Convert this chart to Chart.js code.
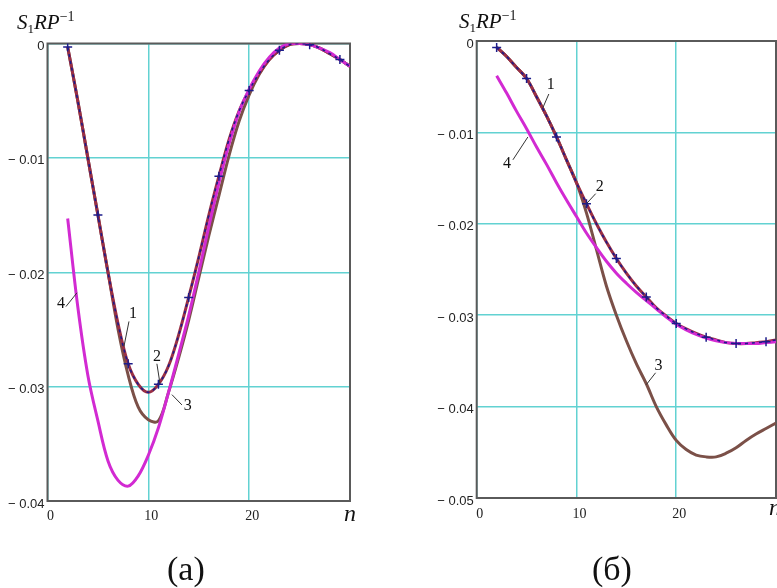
<!DOCTYPE html>
<html><head><meta charset="utf-8">
<script src="https://cdn.jsdelivr.net/npm/chart.js@4.4.0/dist/chart.umd.min.js"></script>
<style>
html,body{margin:0;padding:0;background:#fff;width:777px;height:588px;overflow:hidden;}
#wrap{position:relative;width:777px;height:588px;overflow:hidden;}
canvas{position:absolute;top:0;}
.t{position:absolute;font-family:"Liberation Serif","Times New Roman",serif;color:#111;white-space:nowrap;line-height:20px;}
.ytitle{font-size:21px;}
.ytitle i{font-style:italic;}
.ytitle .sb{font-size:13px;position:relative;top:4px;}
.ytitle .sp{font-size:14px;position:relative;top:-8px;}
.nlab{font-size:24px;font-style:italic;line-height:24px;}
.cap{font-size:34px;line-height:34px;}
</style>
</head><body><div id="wrap">
<canvas id="ca" width="400" height="588" style="left:0;width:400px;height:588px"></canvas>
<canvas id="cb" width="420" height="588" style="left:400px;width:420px;height:588px"></canvas>
<div class="t ytitle" style="left:17px;top:12px"><i>S</i><span class="sb">1</span><i>RP</i><span class="sp">−1</span></div>
<div class="t ytitle" style="left:459px;top:11px"><i>S</i><span class="sb">1</span><i>RP</i><span class="sp">−1</span></div>
<div class="t nlab" style="left:344px;top:501px">n</div>
<div class="t nlab" style="left:769px;top:495px">n</div>
<div class="t cap" style="left:167px;top:552px">(a)</div>
<div class="t cap" style="left:592px;top:552px">(б)</div>
</div>
<script>
// ---- data ----
const nValues = [2,3,4,5,6,7,8,9,10,11,12,13,14,15,16,17,18,19,20,21,22,23,24,25,26,27,28,29,30];
const xTicks = [0,10,20,30];
const yTicksA = [0,-0.01,-0.02,-0.03,-0.04];
const yTicksB = [0,-0.01,-0.02,-0.03,-0.04,-0.05];

// panel (a)
const a1 = [-0.0003,-0.0050,-0.0100,-0.0150,-0.0200,-0.0245,-0.0280,-0.0298,-0.0305,-0.0298,-0.0282,-0.0255,-0.0222,-0.0187,-0.0150,-0.0116,-0.0084,-0.0059,-0.0041,-0.0026,-0.0014,-0.0006,-0.0001,0.0000,-0.0001,-0.0004,-0.0009,-0.0014,-0.0020];
const a2 = [-0.0003,-0.0050,-0.0100,-0.0150,-0.0200,-0.0245,-0.0280,-0.0298,-0.0305,-0.0298,-0.0282,-0.0255,-0.0222,-0.0187,-0.0150,-0.0116,-0.0084,-0.0059,-0.0041,-0.0026,-0.0014,-0.0006,-0.0001,0.0000,-0.0001,-0.0004,-0.0009,-0.0014,-0.0020];
const a3 = [-0.0003,-0.0050,-0.0100,-0.0150,-0.0200,-0.0250,-0.0290,-0.0318,-0.0329,-0.0330,-0.0305,-0.0275,-0.0242,-0.0205,-0.0168,-0.0133,-0.0098,-0.0068,-0.0045,-0.0027,-0.0014,-0.0006,-0.0001,0.0000,-0.0001,-0.0004,-0.0009,-0.0014,-0.0020];
const a4 = [-0.0153,-0.0230,-0.0290,-0.0330,-0.0365,-0.0382,-0.0387,-0.0378,-0.0360,-0.0336,-0.0305,-0.0272,-0.0238,-0.0200,-0.0160,-0.0122,-0.0088,-0.0060,-0.0040,-0.0024,-0.0012,-0.0004,0.0000,0.0000,-0.0001,-0.0004,-0.0008,-0.0014,-0.0020];

// panel (b)
const b1 = [-0.0007,-0.0017,-0.0029,-0.0041,-0.0061,-0.0082,-0.0105,-0.0130,-0.0155,-0.0178,-0.0200,-0.0220,-0.0238,-0.0254,-0.0268,-0.0280,-0.0292,-0.0301,-0.0309,-0.0315,-0.0320,-0.0324,-0.0327,-0.0330,-0.0331,-0.0331,-0.0330,-0.0329,-0.0327];
const b2 = [-0.0007,-0.0017,-0.0029,-0.0041,-0.0061,-0.0082,-0.0105,-0.0130,-0.0155,-0.0178,-0.0200,-0.0220,-0.0238,-0.0254,-0.0268,-0.0280,-0.0292,-0.0301,-0.0309,-0.0315,-0.0320,-0.0324,-0.0327,-0.0330,-0.0331,-0.0331,-0.0330,-0.0329,-0.0327];
const b3 = [-0.0007,-0.0017,-0.0029,-0.0041,-0.0061,-0.0082,-0.0105,-0.0130,-0.0155,-0.0188,-0.0228,-0.0268,-0.0300,-0.0328,-0.0353,-0.0375,-0.0400,-0.0420,-0.0437,-0.0447,-0.0453,-0.0455,-0.0455,-0.0451,-0.0445,-0.0437,-0.0430,-0.0424,-0.0418];
const b4 = [-0.0038,-0.0057,-0.0077,-0.0096,-0.0116,-0.0135,-0.0155,-0.0174,-0.0192,-0.0210,-0.0226,-0.0241,-0.0254,-0.0265,-0.0275,-0.0284,-0.0293,-0.0302,-0.0310,-0.0316,-0.0321,-0.0325,-0.0328,-0.0330,-0.0331,-0.0331,-0.0331,-0.0330,-0.0329];

// curve label annotations (data coordinates)
const labelsA = [
  {text:'1', n:8.47, v:-0.0236, n1:8.08, v1:-0.0243, n2:7.58, v2:-0.0265},
  {text:'2', n:10.85, v:-0.0274, n1:10.85, v1:-0.0280, n2:11.15, v2:-0.0297},
  {text:'3', n:13.9, v:-0.0317, n1:12.34, v1:-0.0307, n2:13.33, v2:-0.0316},
  {text:'4', n:1.34, v:-0.0228, n1:1.83, v1:-0.0230, n2:2.92, v2:-0.0218}
];
const labelsB = [
  {text:'1', n:7.43, v:-0.0048, n1:7.23, v1:-0.0058, n2:6.63, v2:-0.0073},
  {text:'2', n:12.33, v:-0.0159, n1:11.93, v1:-0.0167, n2:11.0, v2:-0.0178},
  {text:'3', n:18.23, v:-0.0355, n1:17.93, v1:-0.0363, n2:17.0, v2:-0.0376},
  {text:'4', n:3.03, v:-0.0134, n1:3.63, v1:-0.0130, n2:5.13, v2:-0.0105}
];

// ---- helpers ----
const pts = arr => nValues.map((n,i)=>({x:n, y:arr[i]}));
const C1 = '#9a2f45', C3 = '#7b5048', C4 = '#d22ad2', C2 = '#1c1c8a';

const framePlugin = {
  id:'frame',
  beforeDatasetsDraw(chart){
    const {ctx, chartArea:a} = chart;
    ctx.save(); ctx.strokeStyle='#5a5a5a'; ctx.lineWidth=2;
    ctx.strokeRect(a.left, a.top, a.right-a.left, a.bottom-a.top);
    ctx.restore();
  }
};
const labelPlugin = {
  id:'curveLabels',
  afterDatasetsDraw(chart, args, opts){
    const {ctx} = chart, xs = chart.scales.x, ys = chart.scales.y;
    ctx.save();
    ctx.strokeStyle='#333'; ctx.lineWidth=1;
    ctx.fillStyle='#111'; ctx.font='16px "Liberation Serif", serif';
    ctx.textAlign='center'; ctx.textBaseline='middle';
    (opts.items||[]).forEach(it=>{
      ctx.beginPath();
      ctx.moveTo(xs.getPixelForValue(it.n1), ys.getPixelForValue(it.v1));
      ctx.lineTo(xs.getPixelForValue(it.n2), ys.getPixelForValue(it.v2));
      ctx.stroke();
      ctx.fillText(it.text, xs.getPixelForValue(it.n), ys.getPixelForValue(it.v));
    });
    ctx.restore();
  }
};

function fmtY(v){
  if (Math.abs(v) < 1e-9) return '0';
  return '\u2212 ' + Math.abs(v).toFixed(2);
}

function makeChart(id, s1, s2, s3, s4, yTicks, labels, cfg){
  return new Chart(document.getElementById(id), {
    type:'line',
    data:{datasets:[
      {data:pts(s2), order:0, borderColor:C2, borderWidth:1.6, borderDash:[3,4], fill:false, tension:0.35,
        pointStyle:'cross', pointRadius:ctx=>(ctx.dataIndex%3===0?4.5:0), pointBorderColor:C2, pointBorderWidth:1.5, pointHoverRadius:0},
      {data:pts(s4), order:1, borderColor:C4, borderWidth:3, pointRadius:0, fill:false, tension:0.35},
      {data:pts(s1), order:2, borderColor:C1, borderWidth:3, pointRadius:0, fill:false, tension:0.35},
      {data:pts(s3), order:3, borderColor:C3, borderWidth:3, pointRadius:0, fill:false, tension:0.35}
    ]},
    options:{
      responsive:false, animation:false, devicePixelRatio:1,
      layout:{padding:{left:0, top:cfg.top, right:cfg.right, bottom:0}},
      plugins:{legend:{display:false}, tooltip:{enabled:false}, curveLabels:{items:labels}},
      scales:{
        x:{type:'linear', min:0, max:30,
          afterBuildTicks:s=>{s.ticks = xTicks.map(v=>({value:v}));},
          afterFit:s=>{s.height = cfg.xh;},
          grid:{color:'#62d2d2', lineWidth:1.5, drawTicks:false},
          border:{display:false},
          ticks:{padding:cfg.xpad, labelOffset:3, color:'#222', maxRotation:0, autoSkip:false,
            font:{family:'"Liberation Serif", serif', size:14},
            callback:v=>(v===30?'':String(v))}
        },
        y:{type:'linear', min:yTicks[yTicks.length-1], max:0,
          afterBuildTicks:s=>{s.ticks = yTicks.map(v=>({value:v}));},
          afterFit:s=>{s.width = cfg.yw;},
          grid:{color:'#62d2d2', lineWidth:1.5, drawTicks:false},
          border:{display:false},
          ticks:{padding:3, labelOffset:3, color:'#222', autoSkip:false,
            font:{family:'"Liberation Sans", Arial, sans-serif', size:13},
            callback:v=>fmtY(v)}
        }
      }
    },
    plugins:[framePlugin, labelPlugin]
  });
}

makeChart('ca', a1, a2, a3, a4, yTicksA, labelsA, {top:43.5, right:50, xh:87, yw:47.5, xpad:7});
makeChart('cb', b1, b2, b3, b4, yTicksB, labelsB, {top:41, right:44, xh:90, yw:76.7, xpad:8});
</script>
</body></html>
